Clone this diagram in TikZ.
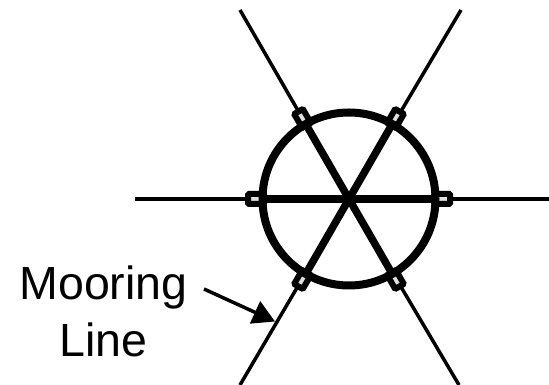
\documentclass[tikz,border=0pt]{standalone}
\usepackage{fontspec}
\setmainfont{Liberation Sans}
\usetikzlibrary{arrows.meta, calc}

\begin{document}
\begin{tikzpicture}[
	x=1pt, y=1pt,
	ring/.style={circle, draw=black, line width=8pt, outer sep=0pt, minimum size=173pt, inner sep=0pt},
	spoke/.style={line width=7.5pt},
	mooring/.style={line width=3.5pt},
	fairlead/.style={rectangle, draw=black, fill=black!12, line width=6pt, outer sep=0pt, rounded corners=1pt, minimum width=16pt, minimum height=10pt, inner sep=0pt},
	pointer/.style={line width=3.5pt, -{Triangle[length=22pt, width=24pt]}},
]
	\useasboundingbox (0, 0) rectangle (549, 385);

	% Centre of the platform
	\coordinate (hub) at (349, 186);

	% Mooring lines, with their free ends at the edge of the picture
	\coordinate (end0) at (549, 186);
	\coordinate (end60) at (461, 375);
	\coordinate (end120) at (240, 375);
	\coordinate (end180) at (135, 186);
	\coordinate (end240) at (240, 0);
	\coordinate (end300) at (459, 0);
	\foreach \a in {0, 60, ..., 300} {
		\draw[mooring] (hub) -- (end\a);
	}

	% Fairleads
	\foreach \a in {0, 60, ..., 300} {
		\node[fairlead, rotate=\a] (lead\a) at ($(hub) + (\a:93)$) {};
	}

	% Hull and spokes on top
	\node[ring] (hull) at (hub) {};
	\draw[spoke] (hull.180) -- (hull.0);
	\draw[spoke] (hull.120) -- (hull.300);
	\draw[spoke] (hull.60) -- (hull.240);

	% Label
	\node[font=\fontsize{46.5}{57}\selectfont, align=center, inner sep=0pt] (label) at (103.5, 74) {Mooring\\Line};
	\coordinate (tail) at (204, 96);
	\coordinate (tip) at (275, 63.5);
	\draw[pointer] (tail) -- (tip);
\end{tikzpicture}
\end{document}
